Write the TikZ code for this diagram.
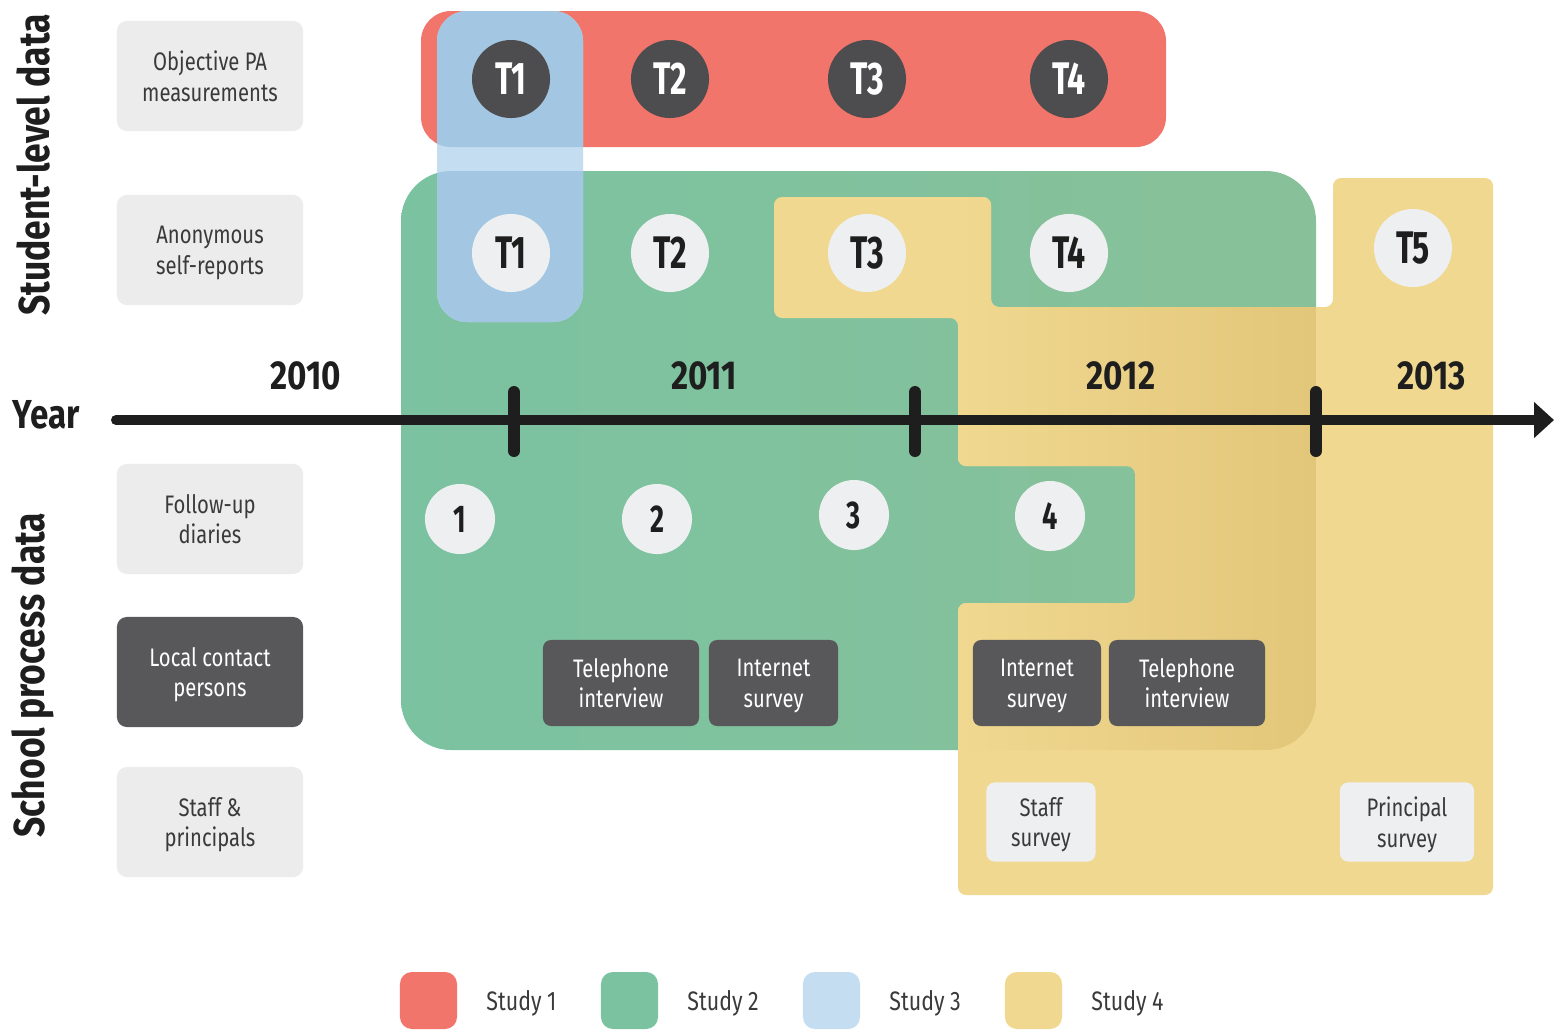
\documentclass[tikz,border=0pt]{standalone}
\usepackage{fontspec}
\setmainfont{Fira Sans}[FakeStretch=0.8]
\newfontfamily\headfont{Fira Sans}[FakeStretch=0.7]
\newfontfamily\yearfont{Fira Sans}[FakeStretch=0.82]
\usepackage{tikz}
\usetikzlibrary{arrows.meta,positioning}

\definecolor{studyA}{HTML}{F2756B}
\definecolor{studyB}{HTML}{7BC2A1}
\definecolor{studyBy}{HTML}{88C199}
\definecolor{studyC}{HTML}{C4DDF0}
\definecolor{studyCd}{HTML}{A3C7E2}
\definecolor{studyD}{HTML}{F0D890}
\definecolor{studyDd}{HTML}{E2C679}
\definecolor{boxl}{HTML}{ECECEC}
\definecolor{boxd}{HTML}{58585A}
\definecolor{circd}{HTML}{4D4D4F}
\definecolor{circl}{HTML}{EEEFF0}
\definecolor{ink}{HTML}{1E1E1E}
\definecolor{txt}{HTML}{3A3A3A}

\begin{document}
\begin{tikzpicture}[
  x=0.01cm,y=-0.01cm,
  font=\fontsize{7.2}{8.8}\selectfont,
  hd/.style={font=\headfont\bfseries\fontsize{#1}{#1}\selectfont},
  hy/.style={font=\yearfont\bfseries\fontsize{#1}{#1}\selectfont},
  st/.style={align=center,execute at begin node={\strut},execute at end node={\strut},
             text depth=0pt},
  cat/.style={st,fill=boxl,text=txt,rounded corners=2.8pt,
              minimum width=1.86cm,minimum height=1.10cm,inner sep=1pt},
  catd/.style={cat,fill=boxd,text=white},
  tp/.style={circle,fill=circd,text=white,minimum size=0.78cm,inner sep=0pt,hd=13},
  tq/.style={tp,fill=circl,text=ink},
  wv/.style={circle,fill=circl,text=ink,minimum size=0.70cm,inner sep=0pt,hd=11},
  md/.style={st,fill=boxd,text=white,rounded corners=2.3pt,
             minimum height=0.86cm,inner sep=1pt},
  sv/.style={st,fill=circl,text=txt,rounded corners=2.3pt,
             minimum height=0.79cm,inner sep=1pt},
  yr/.style={text=ink,hy=11.5},
  side/.style={text=ink,rotate=90,hy=12.3},
  key/.style={rounded corners=3.4pt,minimum width=0.57cm,minimum height=0.57cm,inner sep=0pt},
  keyt/.style={right=0.28cm of #1,yshift=-0.03cm,inner sep=0pt,text=txt,
               font=\fontsize{7.6}{8.6}\selectfont},
  tick/.style={line width=0.12cm,line cap=round,draw=ink}]

\useasboundingbox (0,0) rectangle (1554,1029);
\fill[white] (0,0) rectangle (1554,1029);

% study areas
\fill[studyA,rounded corners=0.3cm] (421,11) rectangle (1166,147);
\shade[rounded corners=0.5cm,left color=studyB,middle color=studyB,right color=studyBy]
  (401,171) rectangle (1316,750);
\fill[studyD,rounded corners=0.08cm] (774,197) -- (991,197) -- (991,307) -- (1333,307)
  -- (1333,178) -- (1493,178) -- (1493,895) -- (958,895) -- (958,603) -- (1135,603)
  -- (1135,466) -- (958,466) -- (958,318) -- (774,318) -- cycle;
\begin{scope}
  \clip[rounded corners=0.08cm] (774,197) -- (991,197) -- (991,307) -- (1333,307)
    -- (1333,178) -- (1493,178) -- (1493,895) -- (958,895) -- (958,603) -- (1135,603)
    -- (1135,466) -- (958,466) -- (958,318) -- (774,318) -- cycle;
  \clip[rounded corners=0.5cm] (401,171) rectangle (1316,750);
  \shade[left color=studyD,right color=studyDd] (958,171) rectangle (1316,750);
\end{scope}
\fill[studyC,rounded corners=0.3cm] (437,11) rectangle (583,322);
\begin{scope}
  \clip[rounded corners=0.3cm] (437,11) rectangle (583,322);
  \fill[studyCd,rounded corners=0.3cm] (421,11) rectangle (1166,147);
  \fill[studyCd,rounded corners=0.5cm] (401,171) rectangle (1316,750);
\end{scope}

% side labels
\node[side] (stl) at (33,165) {Student-level data};
\node[side] (spd) at (33,675) {School process data};
\node[yr] (yl) at (46,415) {Year};

% data sources
\node[cat] (pa) at (210,76) {Objective PA\\measurements};
\node[cat] (sr) at (210,250) {Anonymous\\self-reports};
\node[cat] (fd) at (210,519) {Follow-up\\diaries};
\node[catd] (lc) at (210,672) {Local contact\\persons};
\node[cat] (stp) at (210,822) {Staff \&\\principals};

% time line
\coordinate (ys) at (116,420);
\coordinate (ye) at (1554,420);
\draw[line width=0.1cm,line cap=round,draw=ink,-{Triangle[length=0.2cm,width=0.35cm]}] (ys) -- (ye);
\foreach \x [count=\i] in {514,915,1316} {
  \coordinate (t\i a) at (\x,392);
  \coordinate (t\i b) at (\x,451);
  \draw[tick] (t\i a) -- (t\i b);
}
\node[yr] (y10) at (306,376) {2010};
\node[yr] (y11) at (704,376) {2011};
\node[yr] (y12) at (1121,376) {2012};
\node[yr] (y13) at (1432,376) {2013};

% measurement points
\foreach \x [count=\i] in {511,670,867,1069} {
  \node[tp] (pa\i) at (\x,79) {T\i};
  \node[tq] (sr\i) at (\x,253) {T\i};
}
\node[tq] (sr5) at (1413,248) {T5};
\foreach \x/\y [count=\i] in {460/519,657/519,854/515,1050/516} {
  \node[wv] (w\i) at (\x,\y) {\i};
}

% process data
\node[md,minimum width=1.56cm] (ti1) at (621,683) {Telephone\\interview};
\node[md,minimum width=1.29cm] (is1) at (773.5,683) {Internet\\survey};
\node[md,minimum width=1.28cm] (is2) at (1037,683) {Internet\\survey};
\node[md,minimum width=1.56cm] (ti2) at (1187,683) {Telephone\\interview};
\node[sv,minimum width=1.09cm] (ss) at (1041,822) {Staff\\survey};
\node[sv,minimum width=1.34cm] (ps) at (1407,822) {Principal\\survey};

% legend
\foreach \c/\x [count=\i] in {studyA/428.5,studyB/629.5,studyC/831.5,studyD/1033.5} {
  \node[key,fill=\c] (k\i) at (\x,1000.5) {};
  \node[keyt=k\i] (kt\i) {Study \i};
}
\end{tikzpicture}
\end{document}
